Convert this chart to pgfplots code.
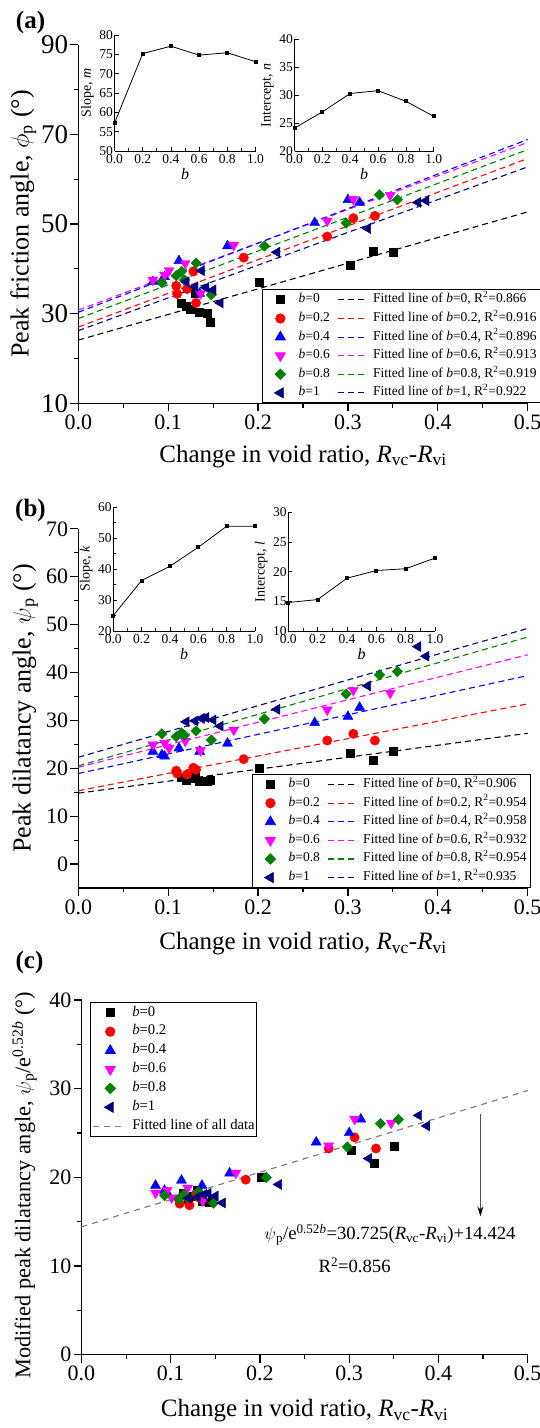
\documentclass[border=0pt]{standalone}
\usepackage{pgfplots}
\pgfplotsset{compat=1.18}
\usetikzlibrary{arrows.meta}
\usepackage{fontspec}
\setmainfont{Liberation Serif}
\newcommand{\fs}[1]{\fontsize{#1}{#1}\selectfont}
\definecolor{cred}{RGB}{255,0,0}
\definecolor{cblue}{RGB}{0,0,255}
\definecolor{cmag}{RGB}{255,0,255}
\definecolor{cgreen}{RGB}{0,128,0}
\definecolor{cnavy}{RGB}{0,0,128}
\definecolor{cgray}{RGB}{128,128,128}
\pgfplotsset{
  /pgf/number format/assume math mode=true,
  dsh/.style={dash pattern=on 6pt off 4pt, line width=1.1pt},
  markimg/.style 2 args={legend image code/.code={\path[draw=none,fill=none] (0pt,-3pt) rectangle (#1,3pt); \draw[##1] plot coordinates {(#2,0pt)};}},
  lineimg/.style={legend image code/.code={\path[draw=none,fill=none] (0pt,-3pt) rectangle (#1,3pt); \draw[##1] (0pt,0pt) -- (#1,0pt);}},
  s0/.style={only marks, mark=square*, mark size=4pt, black, mark options={solid, draw=black, fill=black}},
  s2/.style={only marks, mark=*, mark size=4.7pt, cred, mark options={solid, draw=cred, fill=cred}},
  s4/.style={only marks, mark=triangle*, mark size=5.8pt, cblue, mark options={solid, draw=cblue, fill=cblue}},
  s6/.style={only marks, mark=triangle*, mark size=5.8pt, cmag, mark options={solid, draw=cmag, fill=cmag, rotate=180}},
  s8/.style={only marks, mark=square*, mark size=3.7pt, cgreen, mark options={solid, draw=cgreen, fill=cgreen, rotate=45}},
  s10/.style={only marks, mark=triangle*, mark size=5.8pt, cnavy, mark options={solid, draw=cnavy, fill=cnavy, rotate=90}},
  mainax/.style={
    scale only axis, anchor=south west, clip=false,
    axis x line=bottom, axis y line=left,
    axis line style={-, line width=1.3pt},
    tick align=outside, major tick length=8pt, minor tick length=4.5pt,
    tick style={line width=1.2pt, black},
    xmin=0, xmax=0.5, xtick={0,0.1,0.2,0.3,0.4,0.5}, minor x tick num=1,
    xticklabel style={font=\fs{22}, /pgf/number format/fixed, /pgf/number format/fixed zerofill, /pgf/number format/precision=1},
    yticklabel style={font=\fs{22}, inner xsep=2pt},
    xlabel style={font=\fs{25}, anchor=center},
    ylabel style={font=\fs{26}, anchor=center},
    legend cell align=left,
    xlabel={Change in void ratio, \textit{R}\textsubscript{vc}-\textit{R}\textsubscript{vi}},
  },
  legAB/.style={legend columns=2, legend style={at={(#1,0)}, anchor=south west, draw=black, line width=0.8pt, fill=white, inner xsep=3.5pt, inner ysep=3.5pt, font=\fs{13.5}, nodes={inner sep=0pt, text height=9.5pt, text depth=3.5pt}, row sep=5.6pt, /tikz/every odd column/.append style={column sep=5pt}, /tikz/every even column/.append style={column sep=7.2pt}}},
  inax/.style={
    scale only axis, anchor=south west,
    axis x line=bottom, axis y line=left,
    axis line style={-, line width=0.9pt},
    tick align=inside, major tick length=4pt, minor tick length=2.5pt,
    tick style={line width=0.7pt, black},
    xmin=0, xmax=1, xtick={0,0.2,0.4,0.6,0.8,1}, minor x tick num=1,
    ticklabel style={font=\fs{13.5}},
    xticklabel style={/pgf/number format/fixed, /pgf/number format/fixed zerofill, /pgf/number format/precision=1},
    yticklabel style={inner xsep=1.5pt},
    xlabel={\textit{b}},
    xlabel style={font=\fs{16}, at={([yshift=-23pt]axis description cs:0.5,0)}, anchor=center},
    ylabel style={font=\fs{14}, at={([xshift=-27pt]axis description cs:0,0.5)}, anchor=center},
  },
  inplot/.style={black, line width=0.8pt, mark=square*, mark size=1.5pt, mark options={solid}},
}
\begin{document}
\begin{tikzpicture}[x=1pt,y=1pt]
\useasboundingbox (0,0) rectangle (540,1428);

% ================= (a) =================
\begin{axis}[mainax, at={(78.3pt,1024.7pt)}, width=449.4pt, height=358.6pt,
  ymin=10, ymax=90, ytick={10,30,50,70,90}, minor y tick num=1,
  yticklabel style={font=\fs{27}},
  xlabel style={at={([yshift=-53pt]axis description cs:0.5,0)}},
  ylabel style={at={([xshift=-55pt]axis description cs:0,0.5)}},
  ylabel={Peak friction angle, $\phi$\textsubscript{p} (°)},
  legAB=0.4094]
\addplot[black, dsh, forget plot] coordinates {(0,24.1) (0.5,52.7)};
\addplot[cred, dsh, forget plot] coordinates {(0,27.0) (0.5,64.6)};
\addplot[cgreen, dsh, forget plot] coordinates {(0,28.9) (0.5,66.6)};
\addplot[cnavy, dsh, forget plot] coordinates {(0,26.2) (0.5,62.75)};
\addplot[cmag, dsh, forget plot] coordinates {(0,30.8) (0.5,68.2)};
\addplot[cblue, dsh, forget plot] coordinates {(0,30.3) (0.5,68.85)};
\addplot[s0, forget plot] coordinates {(0.114,32.4) (0.120,31.6) (0.125,31.0) (0.130,34.5) (0.135,30.4) (0.143,30.1) (0.147,28.1) (0.201,37.1) (0.302,40.7) (0.328,44.0) (0.350,43.6)};
\addplot[s2, forget plot] coordinates {(0.109,36.2) (0.110,34.4) (0.121,35.5) (0.128,39.4) (0.131,32.4) (0.184,42.5) (0.277,47.2) (0.306,51.3) (0.330,51.8)};
\addplot[s4, forget plot] coordinates {(0.083,37.1) (0.093,37.4) (0.096,38.2) (0.112,41.8) (0.135,34.5) (0.166,45.1) (0.263,50.3) (0.300,55.4) (0.313,54.8)};
\addplot[s6, forget plot] coordinates {(0.083,37.5) (0.096,38.6) (0.101,39.6) (0.119,41.2) (0.136,34.5) (0.173,45.3) (0.277,50.7) (0.306,55.5) (0.347,56.4)};
\addplot[s8, forget plot] coordinates {(0.093,36.9) (0.109,38.5) (0.115,39.4) (0.118,37.5) (0.131,41.3) (0.148,34.2) (0.207,45.1) (0.298,50.2) (0.335,56.5) (0.355,55.4)};
\addplot[s10, forget plot] coordinates {(0.120,37.1) (0.130,36.0) (0.137,39.6) (0.142,35.8) (0.150,35.3) (0.158,32.4) (0.221,43.7) (0.322,49.0) (0.378,54.8) (0.387,55.2)};
\addlegendimage{s0, markimg={27.5pt}{14.2pt}}\addlegendentry{\textit{b}=0}
\addlegendimage{black, dsh, lineimg=30pt}\addlegendentry{Fitted line of \textit{b}=0, R\textsuperscript{2}=0.866}
\addlegendimage{s2, markimg={27.5pt}{14.2pt}}\addlegendentry{\textit{b}=0.2}
\addlegendimage{cred, dsh, lineimg=30pt}\addlegendentry{Fitted line of \textit{b}=0.2, R\textsuperscript{2}=0.916}
\addlegendimage{s4, markimg={27.5pt}{14.2pt}}\addlegendentry{\textit{b}=0.4}
\addlegendimage{cblue, dsh, lineimg=30pt}\addlegendentry{Fitted line of \textit{b}=0.4, R\textsuperscript{2}=0.896}
\addlegendimage{s6, markimg={27.5pt}{14.2pt}}\addlegendentry{\textit{b}=0.6}
\addlegendimage{cmag, dsh, lineimg=30pt}\addlegendentry{Fitted line of \textit{b}=0.6, R\textsuperscript{2}=0.913}
\addlegendimage{s8, markimg={27.5pt}{14.2pt}}\addlegendentry{\textit{b}=0.8}
\addlegendimage{cgreen, dsh, lineimg=30pt}\addlegendentry{Fitted line of \textit{b}=0.8, R\textsuperscript{2}=0.919}
\addlegendimage{s10, markimg={27.5pt}{14.2pt}}\addlegendentry{\textit{b}=1}
\addlegendimage{cnavy, dsh, lineimg=30pt}\addlegendentry{Fitted line of \textit{b}=1, R\textsuperscript{2}=0.922}
\end{axis}

\begin{axis}[inax, at={(114.5pt,1277pt)}, width=141pt, height=116pt,
  ymin=50, ymax=80, ytick={50,55,60,65,70,75,80}, ylabel={Slope, \textit{m}}]
\addplot[inplot] coordinates {(0,57.2) (0.2,75.2) (0.4,77.1) (0.6,74.8) (0.8,75.4) (1,73.1)};
\end{axis}
\begin{axis}[inax, at={(294.5pt,1277pt)}, width=139.2pt, height=111.7pt,
  ymin=20, ymax=40, ytick={20,25,30,35,40}, ylabel={Intercept, \textit{n}}]
\addplot[inplot] coordinates {(0,24.1) (0.2,27.0) (0.4,30.3) (0.6,30.8) (0.8,28.9) (1,26.2)};
\end{axis}

% ================= (b) =================
\begin{axis}[mainax, at={(78.3pt,540pt)}, width=449.4pt, height=359.2pt,
  ymin=-5, ymax=70, ytick={0,10,20,30,40,50,60,70}, minor y tick num=1,
  xlabel style={at={([yshift=-56pt]axis description cs:0.5,0)}},
  ylabel style={at={([xshift=-53pt]axis description cs:0,0.5)}},
  ylabel={Peak dilatancy angle, $\psi$\textsubscript{p} (°)},
  legAB=0.3872]
\addplot[black, dsh, forget plot] coordinates {(0,14.8) (0.5,27.3)};
\addplot[cred, dsh, forget plot] coordinates {(0,15.3) (0.5,33.45)};
\addplot[cblue, dsh, forget plot] coordinates {(0,18.9) (0.5,39.35)};
\addplot[cmag, dsh, forget plot] coordinates {(0,20.2) (0.5,43.7)};
\addplot[cgreen, dsh, forget plot] coordinates {(0,20.5) (0.5,47.4)};
\addplot[cnavy, dsh, forget plot] coordinates {(0,22.3) (0.5,49.2)};
\addplot[s0, forget plot] coordinates {(0.114,18.2) (0.120,17.5) (0.125,17.9) (0.130,18.6) (0.135,17.3) (0.143,17.2) (0.147,17.6) (0.201,20.0) (0.302,23.1) (0.328,21.6) (0.350,23.5)};
\addplot[s2, forget plot] coordinates {(0.109,19.5) (0.110,18.9) (0.121,18.7) (0.128,20.1) (0.131,19.7) (0.184,21.9) (0.277,25.8) (0.306,27.2) (0.330,25.8)};
\addplot[s4, forget plot] coordinates {(0.083,23.5) (0.093,22.8) (0.096,22.5) (0.112,24.2) (0.135,23.5) (0.166,25.2) (0.263,29.5) (0.300,30.8) (0.313,32.7)};
\addplot[s6, forget plot] coordinates {(0.083,24.9) (0.096,25.3) (0.101,24.2) (0.119,25.7) (0.136,23.7) (0.173,28.0) (0.277,32.2) (0.306,36.3) (0.347,35.7)};
\addplot[s8, forget plot] coordinates {(0.093,27.2) (0.109,26.6) (0.115,27.4) (0.118,26.9) (0.131,27.8) (0.148,25.9) (0.207,30.3) (0.298,35.5) (0.335,39.5) (0.355,40.2)};
\addplot[s10, forget plot] coordinates {(0.120,29.7) (0.130,29.9) (0.137,30.4) (0.142,30.6) (0.150,30.1) (0.158,28.8) (0.221,32.3) (0.322,37.2) (0.378,45.4) (0.387,43.4)};
\addlegendimage{s0, markimg={27.5pt}{14.2pt}}\addlegendentry{\textit{b}=0}
\addlegendimage{black, dsh, lineimg=30pt}\addlegendentry{Fitted line of \textit{b}=0, R\textsuperscript{2}=0.906}
\addlegendimage{s2, markimg={27.5pt}{14.2pt}}\addlegendentry{\textit{b}=0.2}
\addlegendimage{cred, dsh, lineimg=30pt}\addlegendentry{Fitted line of \textit{b}=0.2, R\textsuperscript{2}=0.954}
\addlegendimage{s4, markimg={27.5pt}{14.2pt}}\addlegendentry{\textit{b}=0.4}
\addlegendimage{cblue, dsh, lineimg=30pt}\addlegendentry{Fitted line of \textit{b}=0.4, R\textsuperscript{2}=0.958}
\addlegendimage{s6, markimg={27.5pt}{14.2pt}}\addlegendentry{\textit{b}=0.6}
\addlegendimage{cmag, dsh, lineimg=30pt}\addlegendentry{Fitted line of \textit{b}=0.6, R\textsuperscript{2}=0.932}
\addlegendimage{s8, markimg={27.5pt}{14.2pt}}\addlegendentry{\textit{b}=0.8}
\addlegendimage{cgreen, dsh, lineimg=30pt}\addlegendentry{Fitted line of \textit{b}=0.8, R\textsuperscript{2}=0.954}
\addlegendimage{s10, markimg={27.5pt}{14.2pt}}\addlegendentry{\textit{b}=1}
\addlegendimage{cnavy, dsh, lineimg=30pt}\addlegendentry{Fitted line of \textit{b}=1, R\textsuperscript{2}=0.935}
\end{axis}

\begin{axis}[inax, at={(113.3pt,797pt)}, width=141.7pt, height=124pt,
  ymin=20, ymax=60, ytick={20,30,40,50,60}, minor y tick num=1, ylabel={Slope, \textit{k}}]
\addplot[inplot] coordinates {(0,25.0) (0.2,36.3) (0.4,40.9) (0.6,47.0) (0.8,53.8) (1,53.8)};
\end{axis}
\begin{axis}[inax, at={(288.3pt,797pt)}, width=146.7pt, height=118.6pt,
  ymin=10, ymax=30, ytick={10,15,20,25,30}, ylabel={Intercept, \textit{l}}]
\addplot[inplot] coordinates {(0,14.8) (0.2,15.3) (0.4,18.9) (0.6,20.2) (0.8,20.5) (1,22.3)};
\end{axis}

% ================= (c) =================
\begin{axis}[mainax, at={(81.5pt,73.3pt)}, width=446.2pt, height=354.7pt,
  ymin=0, ymax=40, ytick={0,10,20,30,40}, minor y tick num=1,
  xlabel style={at={([yshift=-56pt]axis description cs:0.5,0)}},
  ylabel style={font=\fs{22.3}, at={([xshift=-57pt,yshift=-8pt]axis description cs:0,0.5)}},
  ylabel={Modified peak dilatancy angle, $\psi$\textsubscript{p}/e\textsuperscript{0.52\textit{b}} (°)},
  legend style={at={(0.019,0.9935)}, anchor=north west, draw=black, line width=0.8pt, fill=white, inner xsep=2pt, inner ysep=3pt, font=\fs{14.7}, nodes={inner sep=0pt, text height=10.3pt, text depth=3.8pt}, row sep=4.8pt, /tikz/every odd column/.append style={column sep=7.7pt}}]
\addplot[cgray, dash pattern=on 6pt off 5pt, line width=1.2pt, forget plot] coordinates {(0,14.424) (0.5,29.79)};
\addplot[s0, forget plot] coordinates {(0.114,18.2) (0.120,17.5) (0.125,17.9) (0.130,18.6) (0.135,17.3) (0.143,17.2) (0.147,17.6) (0.201,20.0) (0.302,23.1) (0.328,21.6) (0.350,23.5)};
\addplot[s2, forget plot] coordinates {(0.109,17.57) (0.110,17.03) (0.121,16.85) (0.128,18.11) (0.131,17.75) (0.184,19.74) (0.277,23.25) (0.306,24.51) (0.330,23.25)};
\addplot[s4, forget plot] coordinates {(0.083,19.09) (0.093,18.52) (0.096,18.27) (0.112,19.66) (0.135,19.09) (0.166,20.47) (0.263,23.96) (0.300,25.02) (0.313,26.56)};
\addplot[s6, forget plot] coordinates {(0.083,18.23) (0.096,18.52) (0.101,17.71) (0.119,18.81) (0.136,17.35) (0.173,20.49) (0.277,23.57) (0.306,26.57) (0.347,26.13)};
\addplot[s8, forget plot] coordinates {(0.093,17.94) (0.109,17.55) (0.115,18.08) (0.118,17.75) (0.131,18.34) (0.148,17.09) (0.207,19.99) (0.298,23.42) (0.335,26.06) (0.355,26.52)};
\addplot[s10, forget plot] coordinates {(0.120,17.66) (0.130,17.78) (0.137,18.07) (0.142,18.19) (0.150,17.90) (0.158,17.12) (0.221,19.20) (0.322,22.12) (0.378,26.99) (0.387,25.80)};
\addlegendimage{s0, markimg={31pt}{17.3pt}}\addlegendentry{\textit{b}=0}
\addlegendimage{s2, markimg={31pt}{17.3pt}}\addlegendentry{\textit{b}=0.2}
\addlegendimage{s4, markimg={31pt}{17.3pt}}\addlegendentry{\textit{b}=0.4}
\addlegendimage{s6, markimg={31pt}{17.3pt}}\addlegendentry{\textit{b}=0.6}
\addlegendimage{s8, markimg={31pt}{17.3pt}}\addlegendentry{\textit{b}=0.8}
\addlegendimage{s10, markimg={31pt}{17.3pt}}\addlegendentry{\textit{b}=1}
\addlegendimage{cgray, dash pattern=on 6pt off 5pt, line width=1.2pt, lineimg=31pt}\addlegendentry{Fitted line of all data}
\draw[cgray!60!black, line width=0.9pt, -{Stealth[black, length=10pt, width=6pt]}] (axis cs:0.447,27.2) -- (axis cs:0.447,15.6);
\end{axis}

\node[font=\bfseries\fs{25}] at (30.5,1405) {(a)};
\node[font=\bfseries\fs{25}] at (30.5,917.5) {(b)};
\node[font=\bfseries\fs{25}] at (29.5,466) {(c)};
\node[font=\fs{18.7}] at (390,193.5) {$\psi$\textsubscript{p}/e\textsuperscript{0.52\textit{b}}=30.725(\textit{R}\textsubscript{vc}-\textit{R}\textsubscript{vi})+14.424};
\node[font=\fs{18.7}] at (354.6,162.5) {R\textsuperscript{2}=0.856};
\end{tikzpicture}
\end{document}
